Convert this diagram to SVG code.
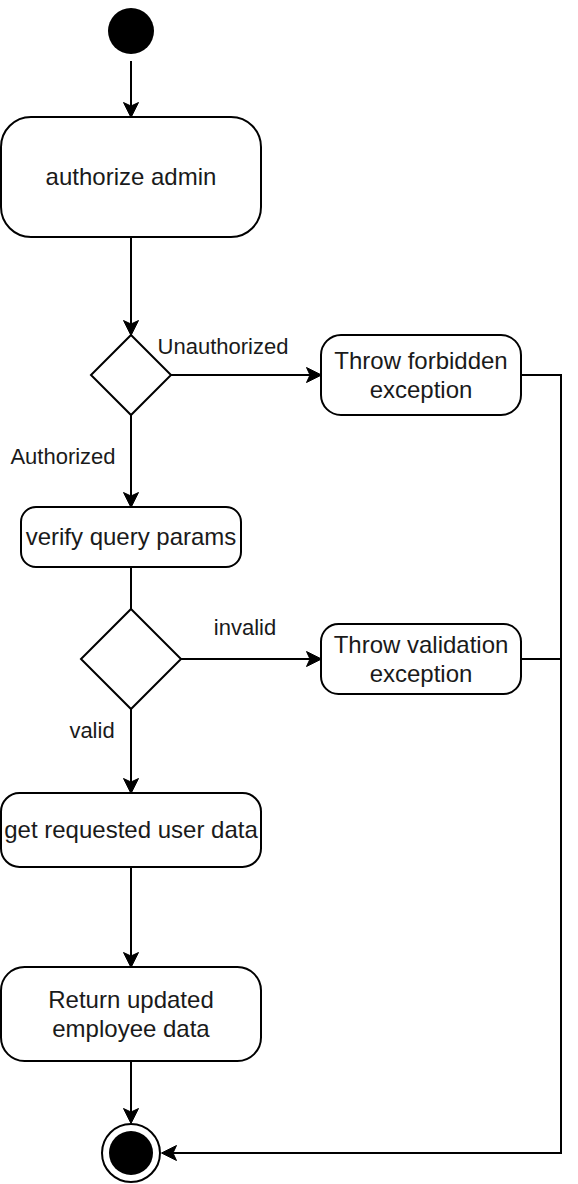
<svg xmlns="http://www.w3.org/2000/svg" width="578" height="1184" viewBox="0 0 578 1184">
<style>
.node{fill:#fff;stroke:#000;stroke-width:2}
.t{font-family:"Liberation Sans",Arial,Helvetica,sans-serif;font-size:24px;fill:#1a1a1a;text-anchor:middle}
.lbl{font-family:"Liberation Sans",Arial,Helvetica,sans-serif;font-size:22px;fill:#1a1a1a;text-anchor:middle}
.edge{fill:none;stroke:#000;stroke-width:2}
</style>
<defs>
<marker id="arr" markerUnits="userSpaceOnUse" markerWidth="16" markerHeight="16" viewBox="0 0 16 16" refX="4" refY="8" orient="auto">
<path d="M0.5,0.5 L15.5,8 L0.5,15.5 L4,8 Z" fill="#000" stroke="#000" stroke-width="1"/>
</marker>
</defs>
<rect width="578" height="1184" fill="#fff"/>
<g id="connectors">
<path class="edge" d="M131,61 V106" marker-end="url(#arr)"/>
<path class="edge" d="M131,237 V324" marker-end="url(#arr)"/>
<path class="edge" d="M171,375 H310" marker-end="url(#arr)"/>
<path class="edge" d="M131,415 V496" marker-end="url(#arr)"/>
<path class="edge" d="M131,567 V609"/>
<path class="edge" d="M181,659 H310" marker-end="url(#arr)"/>
<path class="edge" d="M131,709 V782" marker-end="url(#arr)"/>
<path class="edge" d="M131,867 V956" marker-end="url(#arr)"/>
<path class="edge" d="M131,1061 V1112" marker-end="url(#arr)"/>
<path class="edge" d="M521,375 H561 V1153 H173" marker-end="url(#arr)"/>
<path class="edge" d="M521,659 H561"/>
<text class="lbl" x="223" y="354">Unauthorized</text>
<text class="lbl" x="63" y="464">Authorized</text>
<text class="lbl" x="245" y="635">invalid</text>
<text class="lbl" x="92" y="738">valid</text>
</g>
<g id="start"><circle cx="131" cy="31" r="23" fill="#000"/></g>
<g id="authorize"><rect class="node" x="1" y="117" width="260" height="120" rx="30"/><text class="t" x="131" y="185">authorize admin</text></g>
<g id="decision1"><path class="node" d="M131,335 L171,375 L131,415 L91,375 Z"/></g>
<g id="forbidden"><rect class="node" x="321" y="335" width="200" height="80" rx="20"/><text class="t" x="421" y="369">Throw forbidden</text><text class="t" x="421" y="398">exception</text></g>
<g id="verify"><rect class="node" x="21" y="507" width="220" height="60" rx="15"/><text class="t" x="131" y="545">verify query params</text></g>
<g id="decision2"><path class="node" d="M131,609 L181,659 L131,709 L81,659 Z"/></g>
<g id="validation"><rect class="node" x="321" y="624" width="200" height="70" rx="17.5"/><text class="t" x="421" y="653">Throw validation</text><text class="t" x="421" y="682">exception</text></g>
<g id="getdata"><rect class="node" x="1" y="793" width="260" height="74" rx="18.5"/><text class="t" x="131" y="838">get requested user data</text></g>
<g id="return"><rect class="node" x="1" y="967" width="260" height="94" rx="23.5"/><text class="t" x="131" y="1008">Return updated</text><text class="t" x="131" y="1037">employee data</text></g>
<g id="end"><circle cx="131" cy="1153" r="29" fill="#fff" stroke="#000" stroke-width="2"/><circle cx="131" cy="1153" r="22" fill="#000"/></g>
</svg>
